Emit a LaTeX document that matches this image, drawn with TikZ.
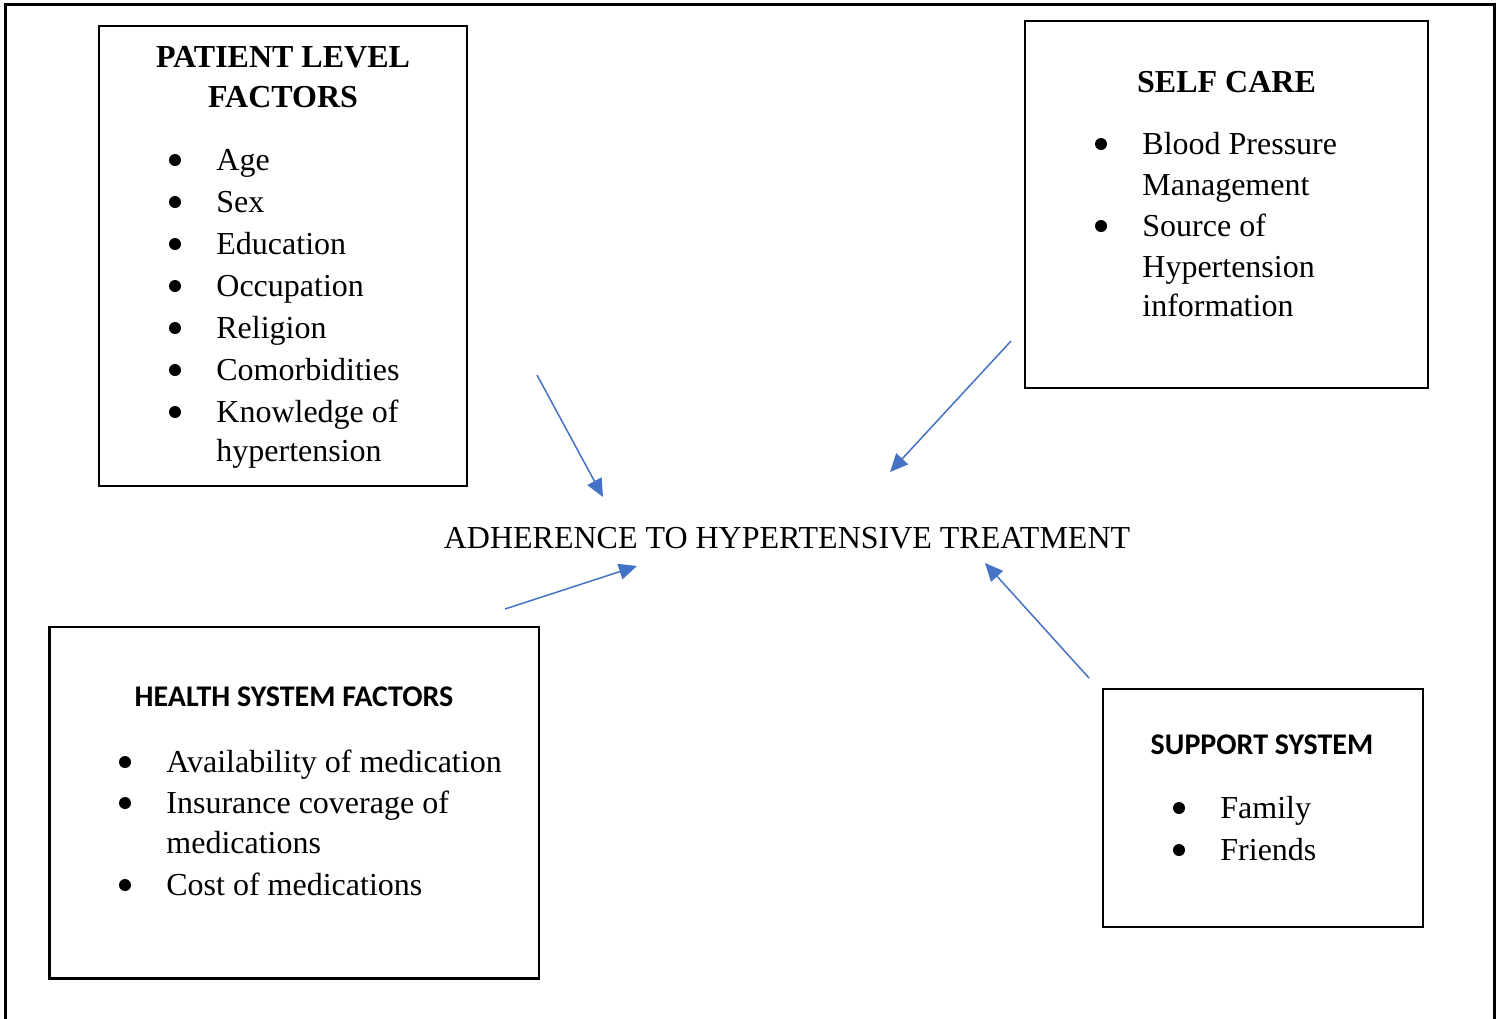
\documentclass[tikz,border=0pt]{standalone}
\usepackage{fontspec}
\setmainfont{Liberation Serif}
\newfontfamily\calibri{Carlito}
\usetikzlibrary{arrows.meta}

\definecolor{linkblue}{HTML}{4472C4}

\begin{document}
\begin{tikzpicture}[x=0.5pt,y=-0.5pt,
        panel/.style={draw,line width=1.3pt,inner sep=0pt},
        head/.style={anchor=base,inner sep=0pt,font=\fontsize{16}{20}\selectfont\bfseries},
        shead/.style={anchor=base,inner sep=0pt,font=\fontsize{15}{18}\selectfont\calibri\bfseries},
        item/.style={anchor=base west,inner sep=0pt,font=\fontsize{16}{20}\selectfont},
        dot/.style={circle,fill,inner sep=0pt,minimum size=6pt},
        link/.style={draw=linkblue,line width=0.75pt,-{Triangle[length=9pt,width=8pt]}}]
        \useasboundingbox (0,0) rectangle (1503,1018);
        \draw[line width=1.5pt] (5.5,1040) |- (1494.5,4.5) -- (1494.5,1040);

        % boxes
        \node[panel,minimum width=184pt,minimum height=230pt]     (patient)  at (283,256)      {};
        \node[panel,minimum width=201.5pt,minimum height=183.5pt] (selfcare) at (1226.5,204.5) {};
        \node[panel,minimum width=244.75pt,minimum height=175.75pt] (health) at (294.25,802.75) {};
        \node[panel,minimum width=160pt,minimum height=119pt]     (support)  at (1263,808)     {};

        \node[item,anchor=base] (adherence) at (787,548) {ADHERENCE TO HYPERTENSIVE TREATMENT};

        % patient level factors
        \node[head] (pl-h1) at (283,67)  {PATIENT LEVEL};
        \node[head] (pl-h2) at (283,107) {FACTORS};
        \foreach \n/\y in {1/160,2/202,3/244,4/286,5/328,6/370,7/412}
            \node[dot] (pl-b\n) at (175,\y) {};
        \node[item] (pl-1) at (216,170) {Age};
        \node[item] (pl-2) at (216,212) {Sex};
        \node[item] (pl-3) at (216,254) {Education};
        \node[item] (pl-4) at (216,296) {Occupation};
        \node[item] (pl-5) at (216,338) {Religion};
        \node[item] (pl-6) at (216,380) {Comorbidities};
        \node[item] (pl-7) at (216,422) {Knowledge of};
        \node[item] (pl-8) at (216,461) {hypertension};

        % self care
        \node[head] (sc-h) at (1226.5,92) {SELF CARE};
        \node[dot] (sc-b1) at (1101,144) {};
        \node[dot] (sc-b2) at (1101,226) {};
        \node[item] (sc-1) at (1142,154) {Blood Pressure};
        \node[item] (sc-2) at (1142,195) {Management};
        \node[item] (sc-3) at (1142,236) {Source of};
        \node[item] (sc-4) at (1142,277) {Hypertension};
        \node[item] (sc-5) at (1142,316) {information};

        % health system factors
        \node[shead] (hs-h) at (294,706) {HEALTH SYSTEM FACTORS};
        \node[dot] (hs-b1) at (125,762) {};
        \node[dot] (hs-b2) at (125,803) {};
        \node[dot] (hs-b3) at (125,885) {};
        \node[item] (hs-1) at (166,772) {Availability of medication};
        \node[item] (hs-2) at (166,813) {Insurance coverage of};
        \node[item] (hs-3) at (166,853) {medications};
        \node[item] (hs-4) at (166,895) {Cost of medications};

        % support system
        \node[shead] (ss-h) at (1262,754) {SUPPORT SYSTEM};
        \node[dot] (ss-b1) at (1179,808) {};
        \node[dot] (ss-b2) at (1179,850) {};
        \node[item] (ss-1) at (1220,818) {Family};
        \node[item] (ss-2) at (1220,860) {Friends};

        % arrows into the centre
        \coordinate (pl-out) at (537,375);  \coordinate (pl-in) at (603,497);
        \coordinate (sc-out) at (1011,341); \coordinate (sc-in) at (890,472);
        \coordinate (hs-out) at (505,609);  \coordinate (hs-in) at (637,566);
        \coordinate (ss-out) at (1089,678); \coordinate (ss-in) at (985,563);
        \draw[link] (pl-out) -- (pl-in);
        \draw[link] (sc-out) -- (sc-in);
        \draw[link] (hs-out) -- (hs-in);
        \draw[link] (ss-out) -- (ss-in);
    \end{tikzpicture}
\end{document}
